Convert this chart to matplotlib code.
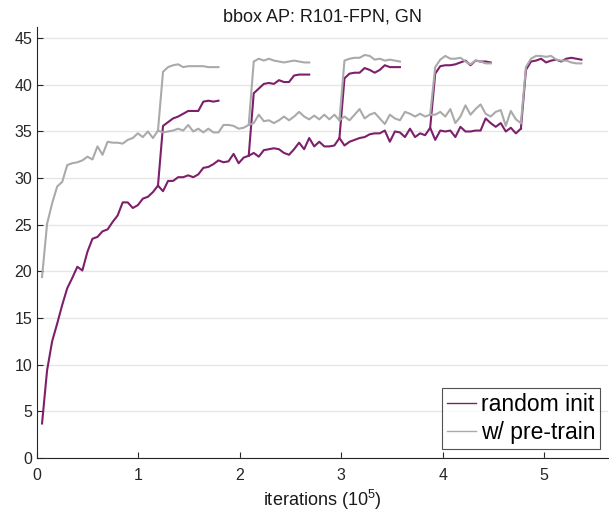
import numpy as np
import matplotlib
matplotlib.use("Agg")
import matplotlib.pyplot as plt

plt.rcParams['font.family'] = ['Liberation Sans', 'DejaVu Sans']
plt.rcParams['mathtext.default'] = 'regular'

# ---------------- data ----------------
eval_step = 0.0497           # x distance between evaluations (in 1e5 iterations)
branch_idx = [24, 42, 60, 78, 96]   # evaluation index where LR-drop branches start

random_main = [3.7, 9.4, 12.5, 14.4, 16.4, 18.2, 19.3, 20.5, 20.1, 22.1, 23.5, 23.7, 24.3, 24.5, 25.3, 26.0, 27.4, 27.4, 26.8, 27.1, 27.8,
               28.0, 28.5, 29.2, 28.6, 29.7, 29.7, 30.1, 30.1, 30.3, 30.1, 30.4, 31.1, 31.2, 31.5, 31.9, 31.7, 31.8, 32.6, 31.6, 32.2, 32.4,
               32.7, 32.3, 33.0, 33.1, 33.2, 33.1, 32.7, 32.5, 33.1, 33.8, 33.1, 34.3, 33.4, 33.9, 33.4, 33.4, 33.5, 34.3,
               33.5, 33.9, 34.1, 34.3, 34.4, 34.7, 34.8, 34.8, 35.1, 33.9, 35.0, 34.9, 34.4, 35.3, 34.4, 34.8, 34.6, 35.4,
               34.1, 35.1, 35.0, 35.1, 34.4, 35.5, 35.0, 35.0, 35.1, 35.1, 36.4, 35.9, 35.5, 35.9, 35.0, 35.4, 34.8, 35.3]

pretrain_main = [19.4, 25.1, 27.3, 29.1, 29.6, 31.4, 31.6, 31.7, 31.9, 32.3, 32.0, 33.4, 32.5, 33.9, 33.8, 33.8, 33.7, 34.1, 34.3, 34.8, 34.4,
                 35.0, 34.3, 35.1, 34.9, 35.0, 35.1, 35.3, 35.1, 35.7, 35.0, 35.3, 34.9, 35.3, 34.9, 34.9, 35.7, 35.7, 35.6, 35.3, 35.4, 35.7,
                 35.9, 36.8, 36.1, 36.2, 35.9, 36.2, 36.6, 36.2, 36.6, 37.1, 36.6, 36.3, 36.7, 36.3, 36.8, 36.3, 36.8, 36.2,
                 36.6, 36.2, 36.8, 37.4, 36.4, 36.8, 37.0, 36.4, 35.8, 36.8, 36.4, 36.2, 37.1, 36.9, 36.6, 36.9, 36.6, 36.8,
                 36.8, 37.1, 36.6, 37.4, 35.9, 36.6, 37.8, 36.8, 37.4, 37.9, 36.9, 36.6, 37.1, 37.3, 35.6, 37.2, 36.3, 35.9]

random_branches = [
    [35.6, 36.0, 36.4, 36.6, 36.9, 37.2, 37.2, 37.2, 38.2, 38.3, 38.2, 38.3],
    [39.1, 39.6, 40.1, 40.2, 40.1, 40.5, 40.3, 40.3, 41.0, 41.1, 41.1, 41.1],
    [40.7, 41.2, 41.3, 41.3, 41.8, 41.6, 41.3, 41.6, 42.1, 41.9, 41.9, 41.9],
    [41.2, 42.0, 42.1, 42.1, 42.2, 42.4, 42.6, 42.1, 42.6, 42.5, 42.5, 42.4],
    [41.6, 42.5, 42.6, 42.8, 42.4, 42.6, 42.7, 42.5, 42.8, 42.9, 42.8, 42.7],
]
pretrain_branches = [
    [41.4, 41.9, 42.1, 42.2, 41.9, 42.0, 42.0, 42.0, 42.0, 41.9, 41.9, 41.9],
    [42.5, 42.8, 42.6, 42.8, 42.6, 42.5, 42.4, 42.5, 42.6, 42.5, 42.4, 42.4],
    [42.6, 42.8, 42.9, 42.9, 43.2, 43.1, 42.7, 42.8, 42.6, 42.7, 42.6, 42.5],
    [41.9, 42.7, 43.1, 42.8, 42.8, 42.9, 42.5, 42.2, 42.6, 42.5, 42.3, 42.3],
    [41.9, 42.8, 43.1, 43.1, 43.0, 43.1, 42.7, 42.6, 42.6, 42.4, 42.3, 42.3],
]

title = "bbox AP: R101-FPN, GN"
xlabel = "iterations (10$^{5}$)"
labels = ["random init", "w/ pre-train"]
yticks = [0, 5, 10, 15, 20, 25, 30, 35, 40, 45]
xticks = [0, 1, 2, 3, 4, 5]

c_rand = "#7d1f6a"
c_pre = "#aaaaaa"

# ---------------- plot ----------------
fig = plt.figure(figsize=(6.09, 5.14), dpi=100)
ax = fig.add_axes([37 / 609, 1 - 458 / 514, 571 / 609, (458 - 27) / 514])

def plot_series(main, branches, color, label):
    main = np.asarray(main)
    k = np.arange(1, len(main) + 1)
    ax.plot(k * eval_step, main, color=color, lw=1.5, label=label, zorder=3)
    for b, vals in zip(branch_idx, branches):
        kb = np.arange(b, b + len(vals) + 1)
        yb = np.concatenate([[main[b - 1]], vals])
        ax.plot(kb * eval_step, yb, color=color, lw=1.5, zorder=3)

plot_series(random_main, random_branches, c_rand, labels[0])
plot_series(pretrain_main, pretrain_branches, c_pre, labels[1])

ax.set_xlim(0, 5.63)
ax.set_ylim(0, 46.2)
ax.set_xticks(xticks)
ax.set_yticks(yticks)
ax.tick_params(direction='in', length=4, width=0.8, labelsize=11.5, colors='#262626')
ax.tick_params(axis='x', pad=7)
ax.yaxis.grid(True, color='#e6e6e6', lw=1.0)
ax.set_axisbelow(True)
for s in ['top', 'right']:
    ax.spines[s].set_visible(False)
for s in ['left', 'bottom']:
    ax.spines[s].set_color('#262626')
    ax.spines[s].set_linewidth(0.8)

ax.set_title(title, fontsize=13, color='#1a1a1a', pad=4)
ax.set_xlabel(xlabel, fontsize=13, color='#1a1a1a', labelpad=4)

leg = ax.legend(loc='lower right', bbox_to_anchor=(0.9867, 0.021), fontsize=16.5,
                frameon=True, fancybox=False, handlelength=1.27, handletextpad=0.2,
                borderpad=0.22, labelspacing=0.2, borderaxespad=0)
leg.get_frame().set_edgecolor('#262626')
leg.get_frame().set_linewidth(0.8)
for line in leg.get_lines():
    line.set_linewidth(1.0)

fig.savefig("out.png", dpi=100)
